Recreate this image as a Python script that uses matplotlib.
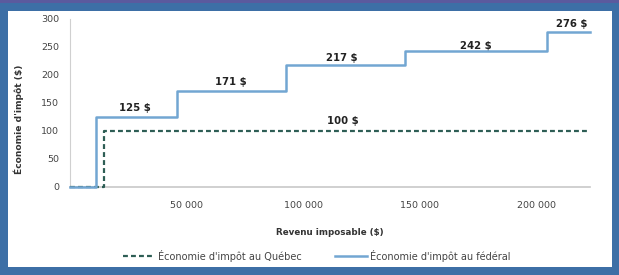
import matplotlib.pyplot as plt
from matplotlib.patches import Rectangle

# paliers d'économie d'impôt
revenu_federal = [0, 11000, 46000, 92500, 143500, 204500, 223000]
economie_federal = [0, 125, 171, 217, 242, 276, 276]
revenu_quebec = [0, 14500, 223000]
economie_quebec = [0, 100, 100]

etiquettes = ["125 $", "171 $", "217 $", "242 $", "276 $", "100 $"]
etiq_x = [28000, 69000, 116500, 174000, 215000, 117000]
etiq_y = [141, 187, 230, 252, 291, 118]

x_ticks = [50000, 100000, 150000, 200000]
x_labels = ["50 000", "100 000", "150 000", "200 000"]
y_ticks = [0, 50, 100, 150, 200, 250, 300]

plt.rcParams['font.family'] = ['DejaVu Sans']

fig = plt.figure(figsize=(6.19, 2.75), dpi=100)
fig.patch.set_facecolor("#3d6fa6")
fig.patches.append(Rectangle((0, 1 - 3 / 275), 1, 3 / 275, transform=fig.transFigure,
                             facecolor="#5b5a9e", edgecolor="none", zorder=-10))
fig.patches.append(Rectangle((8 / 619, 1 - 267 / 275), 604 / 619, 256 / 275,
                             transform=fig.transFigure, facecolor="white", edgecolor="none",
                             zorder=-10))

ax = fig.add_axes([70 / 619, 1 - 187 / 275, 520 / 619, 168 / 275])
ax.set_facecolor("white")

ax.step(revenu_quebec, economie_quebec, where="post", color="#2e5e55", lw=1.6,
        ls=(0, (2.2, 1.4)), label="Économie d'impôt au Québec", zorder=3, clip_on=False)
ax.step(revenu_federal, economie_federal, where="post", color="#72a6d2", lw=1.8,
        label="Économie d'impôt au fédéral", zorder=3.5, clip_on=False)

for t, x, y in zip(etiquettes, etiq_x, etiq_y):
    ax.text(x, y, t, ha="center", va="center", fontsize=7.3, fontweight="bold", color="#222222")

ax.set_xlim(0, 223000)
ax.set_ylim(0, 300)
ax.set_xticks(x_ticks)
ax.set_xticklabels(x_labels)
ax.set_yticks(y_ticks)
ax.tick_params(labelsize=6.8, length=0, colors="#444444")
ax.tick_params(axis="x", pad=10)
ax.tick_params(axis="y", pad=8)
for s in ["top", "right"]:
    ax.spines[s].set_visible(False)
ax.spines["left"].set_color("#d0d0d0")
ax.spines["bottom"].set_color("#c8c8c8")
ax.spines["bottom"].set_linewidth(1.2)

ax.set_xlabel("Revenu imposable ($)", fontsize=6.3, fontweight="bold", color="#333333", labelpad=13)
ax.set_ylabel("Économie d'impôt ($)", fontsize=6.6, fontweight="bold", color="#333333")
ax.yaxis.set_label_coords(-0.088, 0.40)

ax.legend(loc="center", bbox_to_anchor=(0.474, -0.41), ncol=2, frameon=False,
          fontsize=7, handlelength=3.3, handletextpad=0.3, columnspacing=3.4,
          labelcolor="#444444")

fig.savefig("out.png", dpi=100, facecolor=fig.get_facecolor())
